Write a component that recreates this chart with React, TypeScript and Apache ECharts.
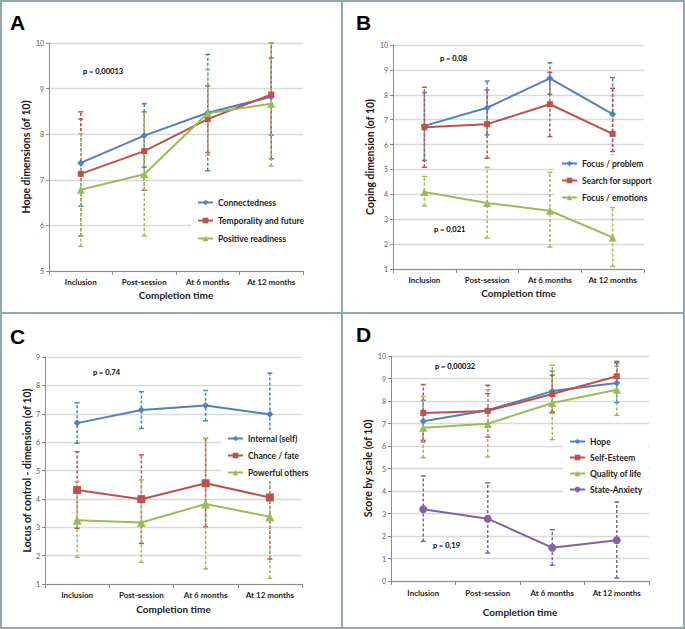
import React, { useEffect, useRef } from "react";
import * as echarts from "echarts";

const categories = ["Inclusion", "Post-session", "At 6 months", "At 12 months"];

// Panel A — Hope dimensions
const aConnected = [7.37, 7.97, 8.47, 8.82];
const aConnectedLo = [6.42, 7.28, 7.2, 7.98];
const aConnectedHi = [8.33, 8.67, 9.75, 9.67];
const aTemporal = [7.13, 7.63, 8.33, 8.87];
const aTemporalLo = [5.77, 6.77, 7.6, 7.46];
const aTemporalHi = [8.49, 8.49, 9.06, 10.0];
const aPositive = [6.78, 7.12, 8.46, 8.67];
const aPositiveLo = [5.54, 5.77, 7.54, 7.3];
const aPositiveHi = [8.01, 8.48, 9.42, 10.0];

// Panel B — Coping
const bProblem = [6.75, 7.48, 8.66, 7.22];
const bProblemLo = [5.36, 6.39, 8.02, 5.72];
const bProblemHi = [8.09, 8.55, 9.29, 8.69];
const bSupport = [6.7, 6.82, 7.62, 6.43];
const bSupportLo = [5.09, 5.45, 6.32, 5.5];
const bSupportHi = [8.3, 8.19, 8.9, 8.26];
const bEmotions = [4.09, 3.65, 3.34, 2.27];
const bEmotionsLo = [3.54, 2.24, 1.88, 1.1];
const bEmotionsHi = [4.72, 5.08, 4.88, 3.47];

// Panel C — Locus of control
const cInternal = [6.67, 7.13, 7.29, 6.98];
const cInternalLo = [5.96, 6.48, 6.75, 5.53];
const cInternalHi = [7.39, 7.78, 7.82, 8.43];
const cChance = [4.31, 3.99, 4.55, 4.05];
const cChanceLo = [2.96, 2.43, 3.02, 1.88];
const cChanceHi = [5.66, 5.55, 6.13, 4.7];
const cPowerful = [3.25, 3.17, 3.82, 3.37];
const cPowerfulLo = [1.94, 1.76, 1.53, 1.2];
const cPowerfulHi = [4.6, 4.67, 6.13, 4.7];

// Panel D — Score by scale
const dHope = [7.1, 7.59, 8.44, 8.8];
const dHopeLo = [6.18, 6.84, 7.51, 7.93];
const dHopeHi = [8.03, 8.33, 9.33, 9.69];
const dSelf = [7.47, 7.56, 8.31, 9.1];
const dSelfLo = [6.25, 6.4, 7.47, 8.44];
const dSelfHi = [8.73, 8.7, 9.14, 9.76];
const dQol = [6.81, 6.99, 7.91, 8.5];
const dQolLo = [5.48, 5.51, 6.28, 7.36];
const dQolHi = [8.2, 8.5, 9.59, 9.55];
const dAnx = [3.19, 2.77, 1.48, 1.81];
const dAnxLo = [1.76, 1.24, 0.7, 0.13];
const dAnxHi = [4.67, 4.36, 2.28, 3.51];

const BLUE = "#4F81BD";
const RED = "#C0504D";
const GREEN = "#9BBB59";
const PURPLE = "#8064A2";
const FONT = "Lato";

function lineSeries(name: string, idx: number, data: number[], color: string, symbol: string, size: number) {
  return {
    type: "line",
    name,
    xAxisIndex: idx,
    yAxisIndex: idx,
    data,
    symbol,
    symbolSize: size,
    itemStyle: { color },
    lineStyle: { color, width: 2 },
    z: 3,
  };
}

function errSeries(idx: number, lo: number[], hi: number[], color: string) {
  return {
    type: "custom",
    xAxisIndex: idx,
    yAxisIndex: idx,
    silent: true,
    z: 2,
    data: lo.map((l, i) => [i, l, hi[i]]),
    encode: { x: 0, y: [1, 2] },
    renderItem: (params: any, api: any) => {
      const x = api.value(0);
      const a = api.coord([x, api.value(1)]);
      const b = api.coord([x, api.value(2)]);
      const cap = 2.5;
      return {
        type: "group",
        children: [
          {
            type: "line",
            shape: { x1: a[0], y1: a[1], x2: b[0], y2: b[1] },
            style: { stroke: color, lineWidth: 1.5, lineDash: [3, 2] },
          },
          {
            type: "line",
            shape: { x1: a[0] - cap, y1: a[1], x2: a[0] + cap, y2: a[1] },
            style: { stroke: color, lineWidth: 1.5 },
          },
          {
            type: "line",
            shape: { x1: b[0] - cap, y1: b[1], x2: b[0] + cap, y2: b[1] },
            style: { stroke: color, lineWidth: 1.5 },
          },
        ],
      };
    },
  };
}

function xAxis(idx: number, nameGap: number, margin: number) {
  return {
    type: "category",
    gridIndex: idx,
    data: categories,
    boundaryGap: true,
    name: "Completion time",
    nameLocation: "middle",
    nameGap,
    nameTextStyle: { fontFamily: FONT, fontSize: 10, fontWeight: "bold", color: "#1a1a1a" },
    axisLine: { show: true, lineStyle: { color: "#8c8c8c", width: 1 } },
    axisTick: { show: true, length: 4, lineStyle: { color: "#8c8c8c" } },
    axisLabel: {
      interval: 0,
      hideOverlap: false,
      fontFamily: FONT,
      fontSize: 8,
      fontWeight: "bold",
      color: "#1a1a1a",
      margin,
    },
    splitLine: { show: false },
  };
}

function yAxis(idx: number, name: string, min: number, max: number, nameGap: number) {
  return {
    type: "value",
    gridIndex: idx,
    min,
    max,
    interval: 1,
    name,
    nameLocation: "middle",
    nameRotate: 90,
    nameGap,
    nameTextStyle: { fontFamily: FONT, fontSize: 10.5, fontWeight: "bold", color: "#1a1a1a" },
    axisLine: { show: true, lineStyle: { color: "#8c8c8c", width: 1 } },
    axisTick: { show: true, length: 3, lineStyle: { color: "#8c8c8c" } },
    axisLabel: { fontFamily: FONT, fontSize: 7, color: "#595959", margin: 5 },
    splitLine: { show: true, lineStyle: { color: "#d9d9d9", width: 1.3 } },
  };
}

function legend(names: string[], left: number, top: number, gap: number) {
  return {
    show: true,
    orient: "vertical",
    left,
    top,
    data: names,
    backgroundColor: "#ffffff",
    padding: [4, 6, 4, 6],
    itemWidth: 15,
    itemHeight: 7,
    itemGap: gap,
    textStyle: { fontFamily: FONT, fontSize: 8.5, fontWeight: "bold", color: "#1a1a1a" },
  };
}

function label(text: string, x: number, y: number, size: number, family = FONT) {
  return {
    type: "text",
    left: x,
    top: y,
    style: { text, fontFamily: family, fontSize: size, fontWeight: "bold", fill: "#000" },
    z: 10,
  };
}

export default function App() {
  const ref = useRef<HTMLDivElement>(null);
  useEffect(() => {
    if (!ref.current) return;
    const chart = echarts.init(ref.current, null, { renderer: "svg" });
    const option: any = {
      animation: false,
      backgroundColor: "#ffffff",
      grid: [
        { left: 49, top: 43, width: 254, height: 228 },
        { left: 393, top: 45, width: 251, height: 224 },
        { left: 45, top: 357, width: 257, height: 227 },
        { left: 391, top: 356, width: 258, height: 225 },
      ],
      xAxis: [xAxis(0, 19, 7), xAxis(1, 19, 7), xAxis(2, 20, 7), xAxis(3, 26, 8)],
      yAxis: [
        yAxis(0, "Hope dimensions (of 10)", 5, 10, 16),
        yAxis(1, "Coping dimension (of 10)", 1, 10, 16),
        yAxis(2, "Locus of control - dimension (of 10)", 1, 9, 12),
        yAxis(3, "Score by scale (of 10)", 0, 10, 16),
      ],
      legend: [
        legend(["Connectedness", "Temporality and future", "Positive readiness"], 191, 194, 9),
        legend(["Focus / problem", "Search for support", "Focus / emotions"], 555, 155, 8),
        legend(["Internal (self)", "Chance / fate", "Powerful others"], 221, 430, 8),
        legend(["Hope", "Self-Esteem", "Quality of life", "State-Anxiety"], 563, 433, 7),
      ],
      series: [
        errSeries(0, aConnectedLo, aConnectedHi, BLUE),
        errSeries(0, aTemporalLo, aTemporalHi, RED),
        errSeries(0, aPositiveLo, aPositiveHi, GREEN),
        lineSeries("Connectedness", 0, aConnected, BLUE, "diamond", 7),
        lineSeries("Temporality and future", 0, aTemporal, RED, "rect", 6),
        lineSeries("Positive readiness", 0, aPositive, GREEN, "triangle", 8),

        errSeries(1, bProblemLo, bProblemHi, BLUE),
        errSeries(1, bSupportLo, bSupportHi, RED),
        errSeries(1, bEmotionsLo, bEmotionsHi, GREEN),
        lineSeries("Focus / problem", 1, bProblem, BLUE, "diamond", 7),
        lineSeries("Search for support", 1, bSupport, RED, "rect", 6),
        lineSeries("Focus / emotions", 1, bEmotions, GREEN, "triangle", 8),

        errSeries(2, cInternalLo, cInternalHi, BLUE),
        errSeries(2, cChanceLo, cChanceHi, RED),
        errSeries(2, cPowerfulLo, cPowerfulHi, GREEN),
        lineSeries("Internal (self)", 2, cInternal, BLUE, "diamond", 7),
        lineSeries("Chance / fate", 2, cChance, RED, "rect", 8),
        lineSeries("Powerful others", 2, cPowerful, GREEN, "triangle", 9),

        errSeries(3, dHopeLo, dHopeHi, BLUE),
        errSeries(3, dSelfLo, dSelfHi, RED),
        errSeries(3, dQolLo, dQolHi, GREEN),
        errSeries(3, dAnxLo, dAnxHi, PURPLE),
        lineSeries("Hope", 3, dHope, BLUE, "diamond", 7),
        lineSeries("Self-Esteem", 3, dSelf, RED, "rect", 6),
        lineSeries("Quality of life", 3, dQol, GREEN, "triangle", 8),
        lineSeries("State-Anxiety", 3, dAnx, PURPLE, "circle", 8),
      ],
      graphic: [
        {
          type: "rect",
          shape: { x: 1, y: 1, width: 683, height: 627 },
          style: { fill: "none", stroke: "#8fa9ad", lineWidth: 2 },
          z: 20,
        },
        {
          type: "line",
          shape: { x1: 342, y1: 0, x2: 342, y2: 629 },
          style: { stroke: "#8fa9ad", lineWidth: 2 },
          z: 20,
        },
        {
          type: "line",
          shape: { x1: 0, y1: 313, x2: 685, y2: 313 },
          style: { stroke: "#8fa9ad", lineWidth: 2 },
          z: 20,
        },
        label("A", 10, 12, 21, "Liberation Sans"),
        label("B", 356, 12, 21, "Liberation Sans"),
        label("C", 10, 326, 21, "Liberation Sans"),
        label("D", 356, 324, 21, "Liberation Sans"),
        label("p = 0,00013", 83, 67, 7.5),
        label("p = 0,08", 440, 54, 7.5),
        label("p = 0,021", 434, 225, 7.5),
        label("p = 0,74", 93, 368, 7.5),
        label("p = 0,00032", 435, 362, 7.5),
        label("p = 0,19", 433, 541, 7.5),
      ],
    };
    chart.setOption(option);
    return () => chart.dispose();
  }, []);
  return (
    <div
      ref={ref}
      style={{ position: "fixed", left: 0, top: 0, width: 685, height: 629, background: "#fff" }}
    />
  );
}
